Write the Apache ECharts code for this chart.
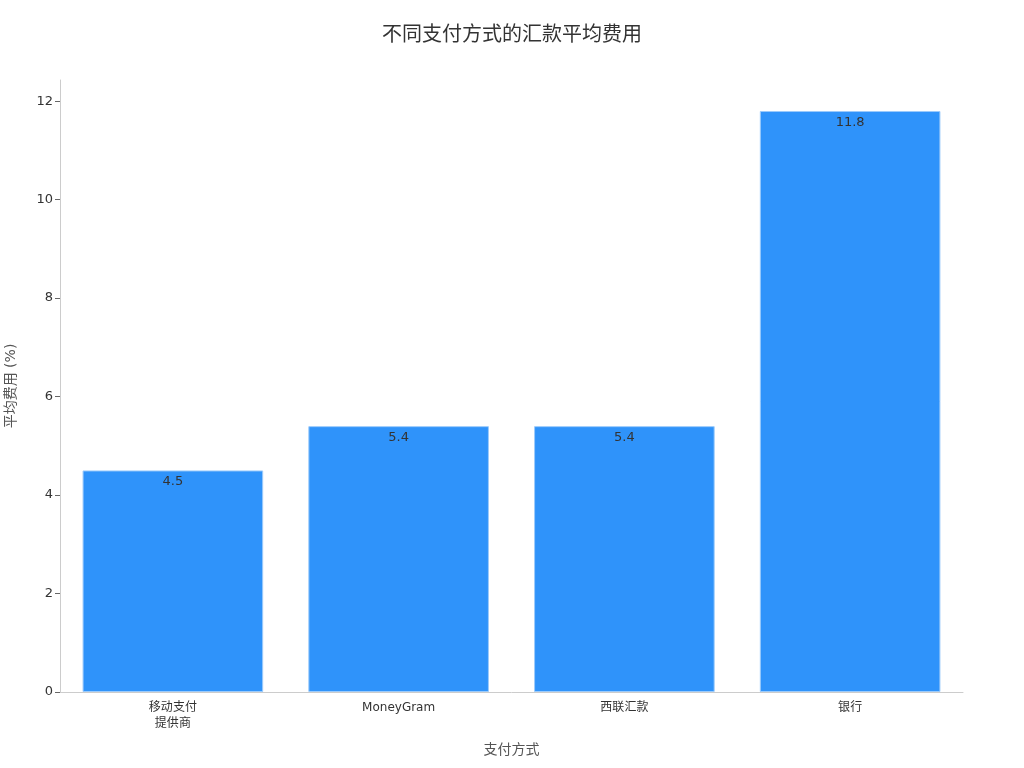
<!DOCTYPE html>
<html><head><meta charset="utf-8">
<script src="https://cdn.jsdelivr.net/npm/echarts@6/dist/echarts.min.js"></script>
<style>html,body{margin:0;padding:0;background:#fff}#c{width:1024px;height:768px}</style>
</head><body><div id="c"></div>
<script>
const categories = ['移动支付\n提供商', 'MoneyGram', '西联汇款', '银行'];
const fees = [4.5, 5.4, 5.4, 11.8];
const yTicks = [0, 2, 4, 6, 8, 10, 12];

const FONT = "'DejaVu Sans', 'Noto Sans CJK SC', sans-serif";
const chart = echarts.init(document.getElementById('c'));
chart.setOption({
  backgroundColor: '#fff',
  title: {
    text: '不同支付方式的汇款平均费用',
    left: 'center', top: 18,
    textStyle: { fontSize: 20, fontWeight: 'normal', color: '#333', fontFamily: 'Noto Sans CJK SC' }
  },
  grid: { left: 60, right: 61, top: 80, bottom: 76, containLabel: false, outerBoundsMode: 'none' },
  xAxis: {
    type: 'category', data: categories,
    name: '支付方式', nameLocation: 'middle', nameGap: 51,
    nameTextStyle: { fontSize: 14, color: '#555', fontFamily: FONT },
    axisLine: { lineStyle: { color: '#ccc' } },
    axisTick: { alignWithLabel: true, length: 4, lineStyle: { color: '#888' } },
    axisLabel: { fontSize: 12, color: '#333', lineHeight: 16, margin: 8, fontFamily: FONT }
  },
  yAxis: {
    type: 'value', min: 0, max: 12.43, interval: 2,
    name: '平均费用 (%)', nameLocation: 'middle', nameGap: 42, nameRotate: 90,
    nameTextStyle: { fontSize: 14, color: '#555', fontFamily: FONT },
    axisLine: { show: true, lineStyle: { color: '#ccc' } },
    axisTick: { show: true, length: 5, lineStyle: { color: '#666' }, customValues: yTicks },
    splitLine: { show: false },
    axisLabel: {
      fontSize: 13, color: '#333', margin: 7, fontFamily: FONT,
      customValues: yTicks
    }
  },
  series: [{
    type: 'bar', data: fees, barCategoryGap: '20%',
    itemStyle: { color: '#2f93fa', borderColor: '#9ccbfb', borderWidth: 1 },
    label: { show: true, position: 'insideTop', fontSize: 13, color: '#333', fontFamily: FONT }
  }]
});
</script></body></html>
